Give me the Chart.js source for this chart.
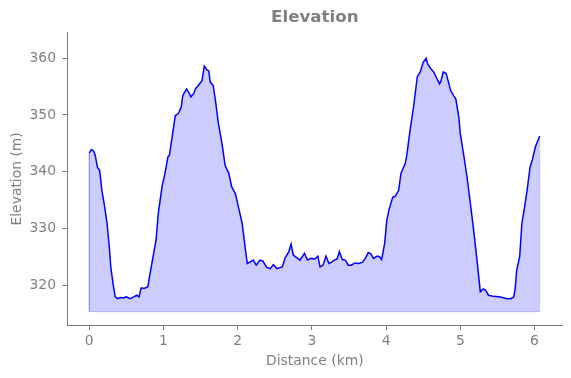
<!DOCTYPE html>
<html>
<head>
<meta charset="utf-8">
<script src="https://cdn.jsdelivr.net/npm/chart.js@4/dist/chart.umd.min.js"></script>
<style>
html,body{margin:0;padding:0;background:#fff;}
#wrap{width:571px;height:378px;position:relative;}
</style>
</head>
<body>
<div id="wrap"><canvas id="c" width="571" height="378"></canvas></div>
<script>
const distanceKm = [0.00,0.03,0.06,0.08,0.11,0.14,0.17,0.20,0.24,0.27,0.29,0.32,0.35,0.38,0.42,0.46,0.50,0.55,0.60,0.64,0.67,0.70,0.74,0.79,0.82,0.86,0.90,0.93,0.98,1.02,1.06,1.08,1.11,1.16,1.20,1.24,1.26,1.31,1.34,1.37,1.41,1.43,1.47,1.52,1.55,1.59,1.61,1.63,1.67,1.70,1.74,1.79,1.83,1.88,1.92,1.97,2.01,2.06,2.10,2.13,2.17,2.21,2.25,2.30,2.34,2.39,2.44,2.48,2.53,2.60,2.64,2.69,2.72,2.75,2.80,2.84,2.90,2.94,2.99,3.04,3.08,3.11,3.15,3.19,3.23,3.27,3.30,3.34,3.37,3.41,3.45,3.49,3.53,3.58,3.63,3.68,3.72,3.76,3.79,3.83,3.88,3.91,3.94,3.98,4.01,4.04,4.09,4.12,4.17,4.20,4.26,4.28,4.32,4.37,4.42,4.46,4.50,4.54,4.56,4.60,4.64,4.67,4.72,4.74,4.77,4.81,4.87,4.91,4.94,4.98,5.00,5.05,5.09,5.13,5.18,5.22,5.27,5.31,5.34,5.38,5.45,5.54,5.63,5.68,5.72,5.74,5.76,5.80,5.83,5.86,5.90,5.94,5.97,6.01,6.07];
const elevationM = [343.3,343.9,343.6,342.9,340.8,340.2,336.7,334.4,330.9,326.7,323.2,320.3,317.9,317.6,317.8,317.7,317.9,317.6,317.9,318.2,317.9,319.5,319.4,319.7,322.1,325.0,327.9,332.6,337.3,339.7,342.6,342.9,345.5,349.9,350.2,351.4,353.4,354.6,354.0,353.2,353.8,354.6,355.2,356.1,358.6,357.9,357.8,355.8,355.2,352.6,348.5,344.9,341.1,339.7,337.3,336.1,333.8,330.9,326.7,323.8,324.1,324.4,323.5,324.4,324.2,323.1,322.9,323.6,322.9,323.2,324.8,325.9,327.2,325.3,324.8,324.4,325.6,324.4,324.7,324.6,325.1,323.2,323.5,325.1,323.8,324.1,324.4,324.6,325.9,324.5,324.4,323.5,323.5,323.9,323.8,324.0,324.7,325.7,325.6,324.7,325.1,325.0,324.5,327.3,331.4,333.3,335.5,335.6,336.7,339.7,341.5,343.0,347.0,351.4,356.7,357.6,359.3,360.0,359.0,358.2,357.6,356.8,355.5,356.0,357.6,357.3,354.3,353.4,352.8,349.6,346.7,342.6,339.1,335.0,329.7,325.0,318.8,319.3,319.1,318.2,318.0,317.9,317.6,317.6,317.9,319.4,322.6,325.0,330.9,333.2,336.7,340.8,342.0,344.3,346.3];
const fillBaseline = 315.3;
const xTicks = [0,1,2,3,4,5,6];
const yTicks = [320,330,340,350,360];

const profile = distanceKm.map((d,i)=>({x:d,y:elevationM[i]}));
const n = distanceKm.length - 1;
const outline = [
  {x:distanceKm[0], y:elevationM[0]},
  {x:distanceKm[0], y:fillBaseline},
  {x:distanceKm[n], y:fillBaseline},
  {x:distanceKm[n], y:elevationM[n]}
];

const GRAY = '#808080';
const FONT = 'DejaVu Sans';

new Chart(document.getElementById('c'), {
  type: 'line',
  data: {
    datasets: [
      {
        data: outline,
        borderColor: 'rgba(0,0,255,0.2)',
        borderWidth: 1,
        pointRadius: 0,
        fill: false,
        order: 3
      },
      {
        data: profile,
        borderColor: 'rgba(0,0,0,0)',
        borderWidth: 0,
        backgroundColor: 'rgba(0,0,255,0.2)',
        pointRadius: 0,
        fill: {value: fillBaseline},
        order: 2
      },
      {
        data: profile,
        borderColor: '#0000ff',
        borderWidth: 1.5,
        pointRadius: 0,
        fill: false,
        tension: 0,
        order: 1
      }
    ]
  },
  options: {
    responsive: false,
    animation: false,
    layout: {padding: {left: 0, right: 8.3, top: 0, bottom: 0}},
    plugins: {
      legend: {display: false},
      tooltip: {enabled: false},
      title: {
        display: true,
        text: 'Elevation',
        fullSize: false,
        color: GRAY,
        font: {family: FONT, size: 16.7, weight: 'bold'},
        padding: {top: 8, bottom: 4.7}
      }
    },
    scales: {
      x: {
        type: 'linear',
        min: -0.30,
        max: 6.38,
        afterBuildTicks: s => { s.ticks = xTicks.map(v=>({value:v})); },
        afterFit: s => { s.height = 53; },
        ticks: {color: GRAY, font: {family: FONT, size: 13.9}, padding: 3, maxRotation: 0},
        grid: {display: true, drawOnChartArea: false, drawTicks: true, tickLength: 5, tickColor: GRAY},
        border: {display: true, color: GRAY, width: 1},
        title: {display: true, text: 'Distance (km)', color: GRAY, font: {family: FONT, size: 13.9}, padding: {top: 0, bottom: 8.7}}
      },
      y: {
        type: 'linear',
        min: 312.95,
        max: 364.5,
        afterBuildTicks: s => { s.ticks = yTicks.map(v=>({value:v})); },
        afterFit: s => { s.width = 67; },
        ticks: {color: GRAY, font: {family: FONT, size: 13.9}, padding: 6},
        grid: {display: true, drawOnChartArea: false, drawTicks: true, tickLength: 5, tickColor: GRAY},
        border: {display: true, color: GRAY, width: 1},
        title: {display: true, text: 'Elevation (m)', color: GRAY, font: {family: FONT, size: 13.9}, padding: {top: 8.7, bottom: 0}}
      }
    }
  }
});
</script>
</body>
</html>
